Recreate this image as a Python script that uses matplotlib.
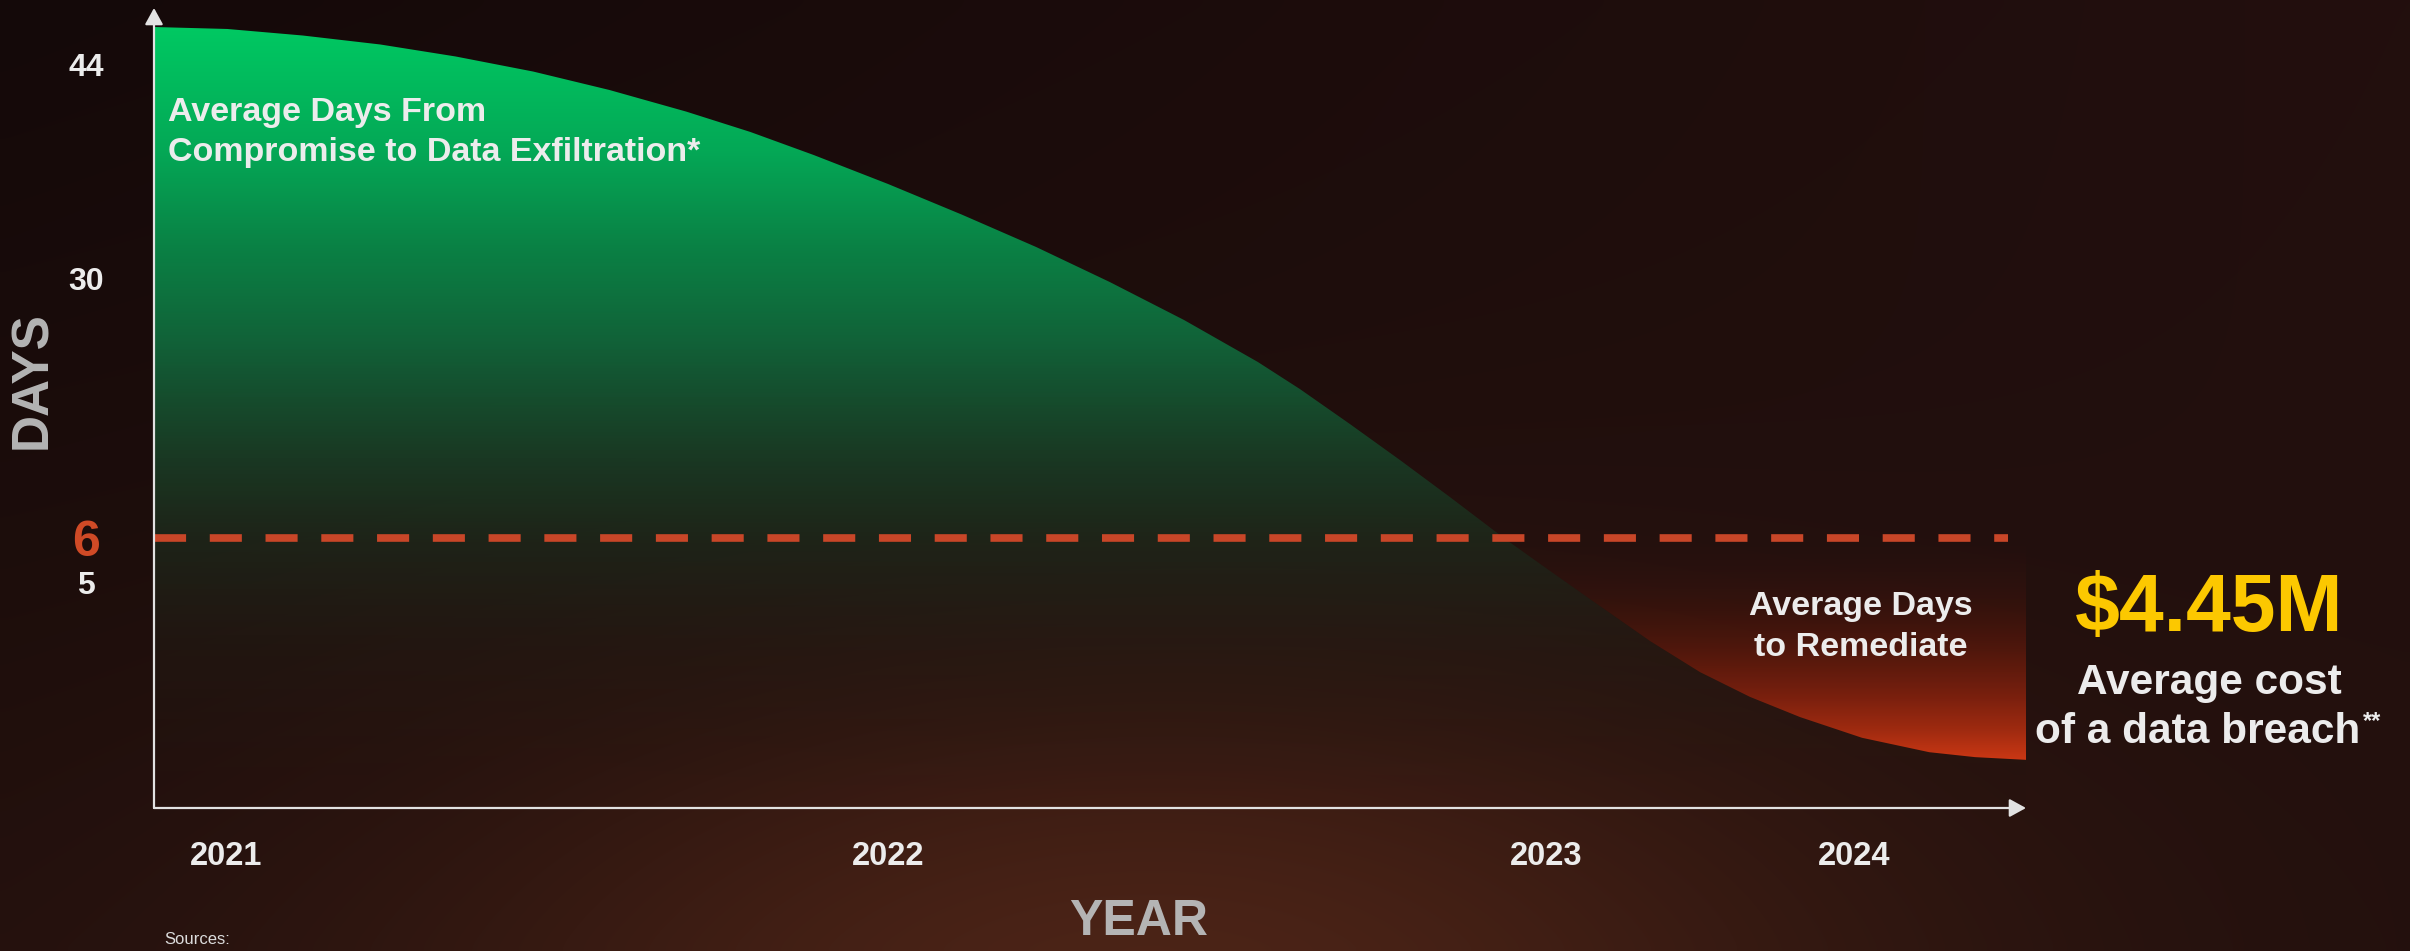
import numpy as np
import matplotlib
matplotlib.use("Agg")
import matplotlib.pyplot as plt
from matplotlib.path import Path
from matplotlib.patches import PathPatch

# ---------------- data ----------------
exfil_years = [2020.891, 2021.002, 2021.116, 2021.233, 2021.347, 2021.464, 2021.579,
               2021.695, 2021.792, 2021.888, 2022.000, 2022.112, 2022.225, 2022.337,
               2022.450, 2022.562, 2022.626, 2022.702, 2022.778, 2022.854, 2022.936,
               2023.013, 2023.175, 2023.338, 2023.500, 2023.662, 2023.825, 2024.026,
               2024.244, 2024.393, 2024.558]
exfil_days = [46.50, 46.37, 45.94, 45.35, 44.56, 43.57, 42.36,
              40.94, 39.60, 38.08, 36.18, 34.17, 32.04, 29.63,
              26.12, 22.25, 19.75, 16.52, 13.20, 9.78, 6.0,
              5.27, 4.49, 3.71, 3.02, 2.47, 2.02, 1.56,
              1.24, 1.13, 1.07]
remediate_days = 6
remediate_line_end = 2024.5

y_ticks = [5, 6, 30, 44]
y_tick_labels = ["5", "6", "30", "44"]
x_ticks = [2021, 2022, 2023, 2024]
x_tick_labels = ["2021", "2022", "2023", "2024"]

# axis layout knots (illustrative, non-uniform axes)
X_KNOT_VAL = [2020.891, 2021, 2022, 2023, 2024, 2024.558]
X_KNOT_POS = [0, 72, 734, 1392, 1700, 1872]
Y_KNOT_VAL = [0, 5, 6, 30, 44, 47.75]
Y_KNOT_POS = [0, 225, 270, 530, 743, 800]

W, H, DPI = 2410, 951, 100
FONT = ["Liberation Sans", "DejaVu Sans"]
plt.rcParams["font.family"] = FONT

fig = plt.figure(figsize=(W / DPI, H / DPI), dpi=DPI)


def fx(px):
    return px / W


def fy(py):
    return 1 - py / H


# ---------------- background ----------------
bg_ax = fig.add_axes([0, 0, 1, 1], zorder=-10)
bg_ax.set_axis_off()
ny, nx = 96, 241
yy, xx = np.mgrid[0:ny, 0:nx]
X = xx / (nx - 1) * W
Y = yy / (ny - 1) * H
t = (Y / H)[..., None]
top = np.array([20, 9, 9])
bot = np.array([34, 16, 13])
base = top * (1 - t) + bot * t
base = base + np.array([15, 6, 5]) * (X / W)[..., None] * (1 - t)
glow = np.exp(-((X - 1150) / 720) ** 2 - ((Y - 1000) / 330) ** 2)[..., None]
bg = base + np.array([42, 20, 10]) * glow
bg = np.clip(bg / 255.0, 0, 1)
bg_ax.imshow(bg, extent=(0, 1, 0, 1), aspect="auto", interpolation="bicubic",
             origin="upper", transform=bg_ax.transAxes)

# ---------------- main axes ----------------
left, right, bottom, topp = 154, 2026, 808, 8
ax = fig.add_axes([fx(left), fy(bottom), (right - left) / W, (bottom - topp) / H])
ax.patch.set_visible(False)
for s in ax.spines.values():
    s.set_visible(False)


def xf(v):
    return np.interp(v, X_KNOT_VAL, X_KNOT_POS)


def xi(p):
    return np.interp(p, X_KNOT_POS, X_KNOT_VAL)


def yf(v):
    return np.interp(v, Y_KNOT_VAL, Y_KNOT_POS)


def yi(p):
    return np.interp(p, Y_KNOT_POS, Y_KNOT_VAL)


ax.set_xscale("function", functions=(xf, xi))
ax.set_yscale("function", functions=(yf, yi))
ax.set_xlim(X_KNOT_VAL[0], X_KNOT_VAL[-1])
ax.set_ylim(Y_KNOT_VAL[0], Y_KNOT_VAL[-1])


def gradient_image(stops_px, colors):
    # vertical gradient; stops given as figure pixel rows (top=0) inside the axes
    n = 400
    frac = np.linspace(0, 1, n)  # bottom -> top
    py = bottom - frac * (bottom - topp)
    img = np.zeros((n, 1, 4))
    cols = np.array(colors, dtype=float)
    for k in range(4):
        img[:, 0, k] = np.interp(py, stops_px, cols[:, k])
    img[..., :3] /= 255.0
    return img[::-1]


# green area
gx = list(exfil_years) + [exfil_years[-1], exfil_years[0]]
gy = list(exfil_days) + [0, 0]
green_patch = PathPatch(Path(np.column_stack([gx, gy])), facecolor="none",
                        edgecolor="none", transform=ax.transData)
ax.add_patch(green_patch)
green_img = gradient_image(
    [8, 30, 150, 250, 350, 450, 540, 650, 808],
    [(0, 205, 100, 1), (0, 200, 98, 1), (4, 168, 86, 1), (10, 128, 68, 1),
     (18, 95, 55, 1), (25, 62, 38, 0.95), (30, 40, 27, 0.85), (35, 30, 22, 0.45),
     (40, 25, 18, 0.0)])
im_g = ax.imshow(green_img, extent=(0, 1, 0, 1), transform=ax.transAxes,
                 aspect="auto", interpolation="bilinear", zorder=1)
im_g.set_clip_path(green_patch)

# red area (between curve and the remediation line)
idx = [i for i, d in enumerate(exfil_days) if d <= remediate_days]
rx = [exfil_years[i] for i in idx] + [exfil_years[-1]]
ry = [exfil_days[i] for i in idx] + [remediate_days]
red_patch = PathPatch(Path(np.column_stack([rx, ry])), facecolor="none",
                      edgecolor="none", transform=ax.transData)
ax.add_patch(red_patch)
red_img = gradient_image(
    [538, 600, 650, 700, 730, 762],
    [(45, 18, 14, 0.0), (60, 20, 13, 0.6), (85, 24, 12, 0.9), (125, 33, 14, 1),
     (158, 42, 16, 1), (205, 56, 20, 1)])
im_r = ax.imshow(red_img, extent=(0, 1, 0, 1), transform=ax.transAxes,
                 aspect="auto", interpolation="bilinear", zorder=2)
im_r.set_clip_path(red_patch)

ax.set_xlim(X_KNOT_VAL[0], X_KNOT_VAL[-1])
ax.set_ylim(Y_KNOT_VAL[0], Y_KNOT_VAL[-1])

# dashed remediation line
ax.plot([exfil_years[0], remediate_line_end], [remediate_days, remediate_days],
        color="#c84628", lw=5.5, linestyle=(0, (4.2, 3.1)), dash_capstyle="butt",
        solid_capstyle="butt", zorder=4)

# axis arrows
axis_col = "#e2e2e2"
ax.annotate("", xy=(0, 1), xytext=(0, 0), xycoords="axes fraction",
            arrowprops=dict(arrowstyle="-|>,head_length=1.0,head_width=0.55",
                            color=axis_col, lw=1.6, shrinkA=0, shrinkB=0,
                            mutation_scale=10), annotation_clip=False, zorder=6)
ax.annotate("", xy=(1, 0), xytext=(0, 0), xycoords="axes fraction",
            arrowprops=dict(arrowstyle="-|>,head_length=1.0,head_width=0.55",
                            color=axis_col, lw=1.6, shrinkA=0, shrinkB=0,
                            mutation_scale=10), annotation_clip=False, zorder=6)

# ticks
ax.set_xticks(x_ticks)
ax.set_xticklabels(x_tick_labels)
ax.set_yticks(y_ticks)
ax.set_yticklabels(y_tick_labels)
ax.tick_params(axis="both", length=0)
ax.tick_params(axis="x", pad=35, labelsize=23.5, labelcolor="#ececec")
ax.tick_params(axis="y", pad=49, labelsize=23, labelcolor="#ececec")
for lab in ax.get_xticklabels():
    lab.set_fontweight("bold")
    lab.set_va("center")
for lab in ax.get_yticklabels():
    lab.set_fontweight("bold")
    lab.set_ha("center")
    if lab.get_text() == "6":
        lab.set_color("#d04a26")
        lab.set_fontsize(36)
ax.minorticks_off()

# ---------------- texts ----------------
txt_col = "#ececec"
fig.text(fx(33), fy(380), "DAYS", rotation=90, ha="center", va="center",
         fontsize=37, fontweight="bold", color="#b4b4b4")
fig.text(fx(1139), fy(922), "YEAR", ha="center", va="center",
         fontsize=36, fontweight="bold", color="#b4b4b4")
fig.text(fx(164), fy(939), "Sources:", ha="left", va="center",
         fontsize=12, color="#dcdcdc")

fig.text(fx(168), fy(113), "Average Days From", ha="left", va="center",
         fontsize=24.5, fontweight="bold", color=txt_col)
fig.text(fx(168), fy(153), "Compromise to Data Exfiltration*", ha="left", va="center",
         fontsize=24.5, fontweight="bold", color=txt_col)

fig.text(fx(1861), fy(607), "Average Days", ha="center", va="center",
         fontsize=24.5, fontweight="bold", color=txt_col)
fig.text(fx(1861), fy(647), "to Remediate", ha="center", va="center",
         fontsize=24.5, fontweight="bold", color=txt_col)

fig.text(fx(2209), fy(610), "$4.45M", ha="center", va="center",
         fontsize=58, fontweight="bold", color="#fcc800")
fig.text(fx(2209), fy(683), "Average cost", ha="center", va="center",
         fontsize=30.5, fontweight="bold", color=txt_col)
fig.text(fx(2198), fy(732), "of a data breach", ha="center", va="center",
         fontsize=30.5, fontweight="bold", color=txt_col)
fig.text(fx(2363), fy(722), "**", ha="left", va="center",
         fontsize=17, fontweight="bold", color=txt_col)

fig.savefig("out.png", dpi=DPI)
